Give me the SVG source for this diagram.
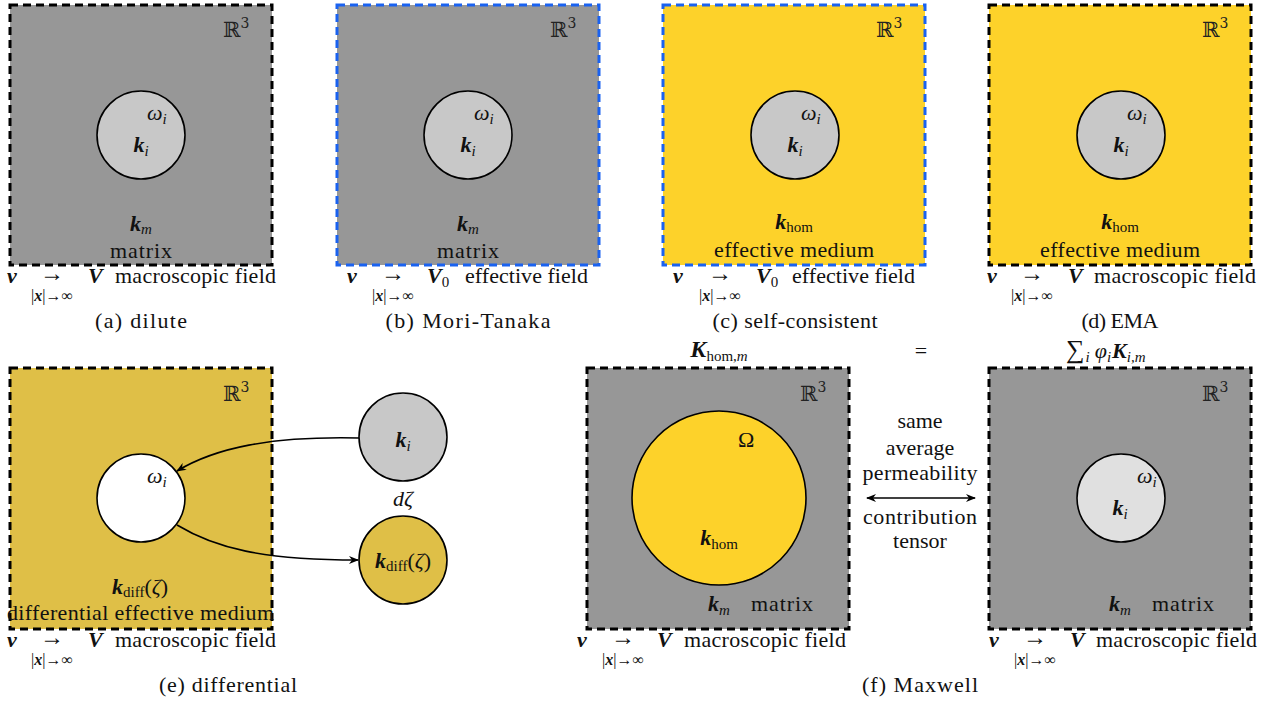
<svg xmlns="http://www.w3.org/2000/svg" width="1277" height="706" viewBox="0 0 1277 706">
<defs>
<style>
.f{font-family:"Liberation Serif","DejaVu Serif",serif;fill:#111}
.n{font-size:22px}
.ar{font-size:24px}
.bi{font-size:22px;font-weight:bold;font-style:italic}
.it{font-style:italic}
.nw{font-weight:normal}
.up{font-style:normal;font-weight:normal}
.sb{font-size:15px}
.sx{font-size:16px}
.bb{font-family:"DejaVu Serif","DejaVu Sans",serif;font-size:21px;fill:#222}
.box{stroke:#000;stroke-width:3;stroke-dasharray:8 5}
.blue{stroke:#1a62f0}
.gray{fill:#979797}
.yel{fill:#fdd22a}
.dyel{fill:#dfbf47}
.circ{stroke:#000;stroke-width:1.6}
.con{fill:none;stroke:#000;stroke-width:1.6}
</style>
<marker id="ah" viewBox="0 0 10 8" refX="9" refY="4" markerWidth="10" markerHeight="8" markerUnits="userSpaceOnUse" orient="auto-start-reverse">
<path d="M0,0 L10,4 L0,8 L3,4 z" fill="#000"/>
</marker>
</defs>
<rect width="1277" height="706" fill="#fff"/>

<!-- (a) dilute -->
<g id="panel-a">
<rect class="box gray" x="10" y="5" width="262" height="260"/>
<text class="bb" x="223" y="37">ℝ<tspan font-size="14" dy="-9">3</tspan></text>
<circle class="circ" cx="141" cy="135" r="44" fill="#c8c8c8"/>
<text class="f it n" x="147" y="120">ω<tspan class="sb" dy="4">i</tspan></text>
<text class="f bi" x="141" y="152" text-anchor="middle">k<tspan class="sb nw" dy="4">i</tspan></text>
<text class="f bi" x="141" y="231" text-anchor="middle">k<tspan class="sb nw" dy="3">m</tspan></text>
<text class="f n" x="141" y="258" text-anchor="middle" textLength="62" lengthAdjust="spacing">matrix</text>
<text class="f bi" x="7" y="283">v</text>
<text class="f ar" x="52" y="281" text-anchor="middle">→</text>
<text class="f sx" x="52" y="301" text-anchor="middle">|<tspan font-weight="bold" font-style="italic">x</tspan>|→∞</text>
<text class="f bi" x="88" y="283">V</text>
<text class="f n" x="115" y="283" textLength="161" lengthAdjust="spacing">macroscopic field</text>
<text class="f n" x="141" y="328" text-anchor="middle" textLength="92" lengthAdjust="spacing">(a) dilute</text>
</g>

<!-- (b) Mori-Tanaka -->
<g id="panel-b">
<rect class="box gray blue" x="337" y="5" width="262" height="260"/>
<text class="bb" x="550" y="37">ℝ<tspan font-size="14" dy="-9">3</tspan></text>
<circle class="circ" cx="468" cy="135" r="44" fill="#c8c8c8"/>
<text class="f it n" x="474" y="120">ω<tspan class="sb" dy="4">i</tspan></text>
<text class="f bi" x="468" y="152" text-anchor="middle">k<tspan class="sb nw" dy="4">i</tspan></text>
<text class="f bi" x="468" y="231" text-anchor="middle">k<tspan class="sb nw" dy="3">m</tspan></text>
<text class="f n" x="468" y="258" text-anchor="middle" textLength="62" lengthAdjust="spacing">matrix</text>
<text class="f bi" x="347" y="283">v</text>
<text class="f ar" x="393" y="281" text-anchor="middle">→</text>
<text class="f sx" x="393" y="301" text-anchor="middle">|<tspan font-weight="bold" font-style="italic">x</tspan>|→∞</text>
<text class="f bi" x="427" y="283">V<tspan class="sb up" dy="4">0</tspan></text>
<text class="f n" x="465" y="283" textLength="123" lengthAdjust="spacing">effective field</text>
<text class="f n" x="468" y="328" text-anchor="middle" textLength="165" lengthAdjust="spacing">(b) Mori-Tanaka</text>
</g>

<!-- (c) self-consistent -->
<g id="panel-c">
<rect class="box yel blue" x="663" y="5" width="262" height="260"/>
<text class="bb" x="876" y="37">ℝ<tspan font-size="14" dy="-9">3</tspan></text>
<circle class="circ" cx="795" cy="135" r="44" fill="#c8c8c8"/>
<text class="f it n" x="801" y="120">ω<tspan class="sb" dy="4">i</tspan></text>
<text class="f bi" x="795" y="152" text-anchor="middle">k<tspan class="sb nw" dy="4">i</tspan></text>
<text class="f bi" x="794" y="229" text-anchor="middle">k<tspan class="sb up" dy="3">hom</tspan></text>
<text class="f n" x="794" y="257" text-anchor="middle" textLength="160" lengthAdjust="spacing">effective medium</text>
<text class="f bi" x="673" y="283">v</text>
<text class="f ar" x="720" y="281" text-anchor="middle">→</text>
<text class="f sx" x="720" y="301" text-anchor="middle">|<tspan font-weight="bold" font-style="italic">x</tspan>|→∞</text>
<text class="f bi" x="756" y="283">V<tspan class="sb up" dy="4">0</tspan></text>
<text class="f n" x="792" y="283" textLength="123" lengthAdjust="spacing">effective field</text>
<text class="f n" x="795" y="328" text-anchor="middle" textLength="165" lengthAdjust="spacing">(c) self-consistent</text>
</g>

<!-- (d) EMA -->
<g id="panel-d">
<rect class="box yel" x="989" y="5" width="262" height="260"/>
<text class="bb" x="1202" y="37">ℝ<tspan font-size="14" dy="-9">3</tspan></text>
<circle class="circ" cx="1121" cy="135" r="44" fill="#c8c8c8"/>
<text class="f it n" x="1127" y="120">ω<tspan class="sb" dy="4">i</tspan></text>
<text class="f bi" x="1121" y="152" text-anchor="middle">k<tspan class="sb nw" dy="4">i</tspan></text>
<text class="f bi" x="1120" y="229" text-anchor="middle">k<tspan class="sb up" dy="3">hom</tspan></text>
<text class="f n" x="1120" y="257" text-anchor="middle" textLength="160" lengthAdjust="spacing">effective medium</text>
<text class="f bi" x="987" y="283">v</text>
<text class="f ar" x="1032" y="281" text-anchor="middle">→</text>
<text class="f sx" x="1032" y="301" text-anchor="middle">|<tspan font-weight="bold" font-style="italic">x</tspan>|→∞</text>
<text class="f bi" x="1068" y="283">V</text>
<text class="f n" x="1094" y="283" textLength="162" lengthAdjust="spacing">macroscopic field</text>
<text class="f n" x="1120" y="328" text-anchor="middle" textLength="77" lengthAdjust="spacing">(d) EMA</text>
</g>

<!-- (e) differential -->
<g id="panel-e">
<rect class="box dyel" x="10" y="368" width="262" height="261"/>
<text class="bb" x="223" y="401">ℝ<tspan font-size="14" dy="-9">3</tspan></text>
<circle class="circ" cx="141" cy="498" r="44" fill="#fff"/>
<text class="f it n" x="147" y="483">ω<tspan class="sb" dy="4">i</tspan></text>
<text class="f bi" x="140" y="594" text-anchor="middle">k<tspan class="sb up" dy="3">diff</tspan><tspan class="up n" dy="-3">(</tspan><tspan class="nw n">ζ</tspan><tspan class="up n">)</tspan></text>
<text class="f n" x="7" y="620" textLength="267" lengthAdjust="spacing">differential effective medium</text>
<text class="f bi" x="7" y="647">v</text>
<text class="f ar" x="52" y="645" text-anchor="middle">→</text>
<text class="f sx" x="52" y="665" text-anchor="middle">|<tspan font-weight="bold" font-style="italic">x</tspan>|→∞</text>
<text class="f bi" x="88" y="647">V</text>
<text class="f n" x="115" y="647" textLength="161" lengthAdjust="spacing">macroscopic field</text>
<text class="f n" x="228" y="692" text-anchor="middle" textLength="138" lengthAdjust="spacing">(e) differential</text>
</g>
<g id="node-ki">
<circle class="circ" cx="403" cy="437" r="44" fill="#c8c8c8"/>
<text class="f bi" x="403" y="447" text-anchor="middle">k<tspan class="sb nw" dy="4">i</tspan></text>
</g>
<g id="label-dzeta">
<text class="f it n" x="403" y="506" text-anchor="middle">dζ</text>
</g>
<g id="node-kdiff">
<circle class="circ" cx="403" cy="560" r="44" fill="#dfbf47"/>
<text class="f bi" x="403" y="568" text-anchor="middle">k<tspan class="sb up" dy="3">diff</tspan><tspan class="up n" dy="-3">(</tspan><tspan class="nw n">ζ</tspan><tspan class="up n">)</tspan></text>
</g>

<!-- (f) Maxwell -->
<g id="panel-f-left">
<text class="f bi" x="719" y="357" text-anchor="middle"><tspan font-size="24">K</tspan><tspan class="sb up" dy="4">hom,</tspan><tspan class="sb nw">m</tspan></text>
<rect class="box gray" x="587" y="368" width="262" height="261"/>
<text class="bb" x="800" y="401">ℝ<tspan font-size="14" dy="-9">3</tspan></text>
<circle class="circ" cx="719" cy="498" r="87" fill="#fdd22a"/>
<text class="f n" x="738" y="447">Ω</text>
<text class="f bi" x="719" y="545" text-anchor="middle">k<tspan class="sb up" dy="4">hom</tspan></text>
<text class="f bi" x="719" y="611" text-anchor="middle">k<tspan class="sb nw" dy="4">m</tspan></text>
<text class="f n" x="751" y="611" textLength="62" lengthAdjust="spacing">matrix</text>
<text class="f bi" x="577" y="647">v</text>
<text class="f ar" x="623" y="645" text-anchor="middle">→</text>
<text class="f sx" x="623" y="665" text-anchor="middle">|<tspan font-weight="bold" font-style="italic">x</tspan>|→∞</text>
<text class="f bi" x="657" y="647">V</text>
<text class="f n" x="684" y="647" textLength="162" lengthAdjust="spacing">macroscopic field</text>
</g>
<g id="label-equal">
<text class="f n" x="921" y="358" text-anchor="middle">=</text>
</g>
<g id="label-middle">
<text class="f n" x="920" y="428" text-anchor="middle">same</text>
<text class="f n" x="920" y="455" text-anchor="middle">average</text>
<text class="f n" x="920" y="480" text-anchor="middle" textLength="115" lengthAdjust="spacing">permeability</text>
<text class="f n" x="920" y="524" text-anchor="middle" textLength="114" lengthAdjust="spacing">contribution</text>
<text class="f n" x="920" y="548" text-anchor="middle">tensor</text>
</g>
<g id="panel-f-right">
<text class="f n" x="1066" y="358"><tspan font-size="26">∑</tspan><tspan class="sb it" dy="4" dx="1">i</tspan><tspan class="it" dy="-4" dx="5">φ</tspan><tspan class="sb it" dy="4">i</tspan><tspan class="bi" font-size="24" dy="-4" dx="1">K</tspan><tspan class="sb it" dy="4">i,m</tspan></text>
<rect class="box gray" x="989" y="368" width="262" height="261"/>
<text class="bb" x="1202" y="401">ℝ<tspan font-size="14" dy="-9">3</tspan></text>
<circle class="circ" cx="1121" cy="498" r="44" fill="#e0e0e0"/>
<text class="f it n" x="1137" y="483">ω<tspan class="sb" dy="4">i</tspan></text>
<text class="f bi" x="1120" y="515" text-anchor="middle">k<tspan class="sb nw" dy="4">i</tspan></text>
<text class="f bi" x="1120" y="611" text-anchor="middle">k<tspan class="sb nw" dy="4">m</tspan></text>
<text class="f n" x="1152" y="611" textLength="62" lengthAdjust="spacing">matrix</text>
<text class="f bi" x="989" y="647">v</text>
<text class="f ar" x="1035" y="645" text-anchor="middle">→</text>
<text class="f sx" x="1035" y="665" text-anchor="middle">|<tspan font-weight="bold" font-style="italic">x</tspan>|→∞</text>
<text class="f bi" x="1070" y="647">V</text>
<text class="f n" x="1096" y="647" textLength="161" lengthAdjust="spacing">macroscopic field</text>
</g>
<g id="caption-f">
<text class="f n" x="920" y="692" text-anchor="middle" textLength="116" lengthAdjust="spacing">(f) Maxwell</text>
</g>

<!-- connectors -->
<g id="connectors">
<path class="con" d="M359,438 C270,436 215,448 177,471" marker-end="url(#ah)"/>
<path class="con" d="M177,525 C215,548 262,560 358,560" marker-end="url(#ah)"/>
<path class="con" d="M867,498 L975,498" marker-start="url(#ah)" marker-end="url(#ah)"/>
</g>
</svg>
